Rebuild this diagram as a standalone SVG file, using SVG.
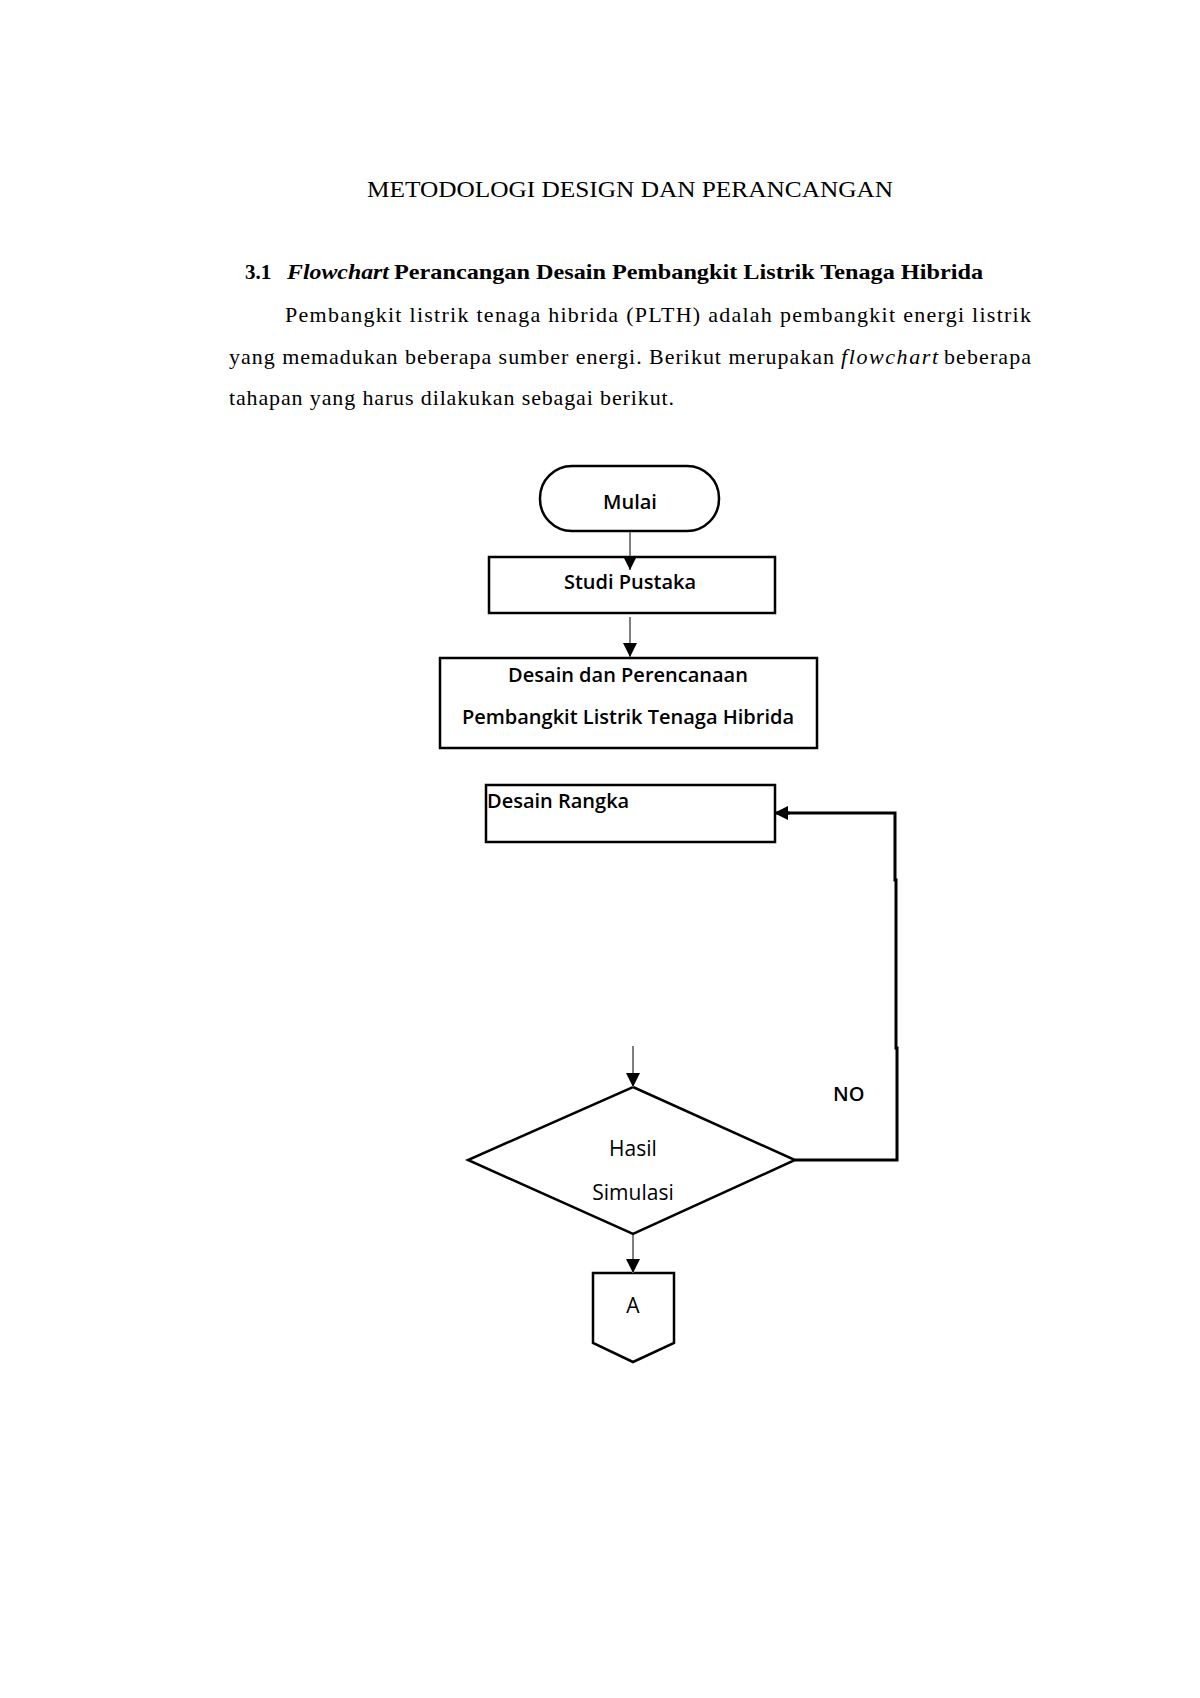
<svg xmlns="http://www.w3.org/2000/svg" width="1200" height="1698" viewBox="0 0 1200 1698">
<style>
.doc{font-family:"Liberation Serif","Times New Roman",serif;fill:#000}
.title{font-size:23px}
.head{font-size:21px;font-weight:bold}
.para{font-size:22px}
.node{fill:#fff;stroke:#000;stroke-width:2.5}
.lbl{font-family:"Open Sans","Noto Sans",sans-serif;font-size:20px;font-weight:600;fill:#000}
.lblr{font-family:"Open Sans","Noto Sans",sans-serif;font-size:21px;font-weight:400;fill:#000}
.conn{fill:none;stroke:#7f7f7f;stroke-width:2}
.loop{fill:none;stroke:#000;stroke-width:3}
</style>
<defs>
<marker id="ah" viewBox="0 0 10 10" refX="10" refY="5" markerUnits="userSpaceOnUse" markerWidth="14" markerHeight="14" orient="auto">
<path d="M0,0 L10,5 L0,10 z" fill="#000"/>
</marker>
</defs>
<rect width="1200" height="1698" fill="#fff"/>
<g id="text-block" class="doc">
<text class="title" x="367" y="197" textLength="526" lengthAdjust="spacingAndGlyphs">METODOLOGI DESIGN DAN PERANCANGAN</text>
<text class="head" x="245" y="279">3.1</text>
<text class="head" x="287" y="279" font-style="italic" textLength="102" lengthAdjust="spacingAndGlyphs">Flowchart</text>
<text class="head" x="394" y="279" textLength="589" lengthAdjust="spacingAndGlyphs">Perancangan Desain Pembangkit Listrik Tenaga Hibrida</text>
<text class="para" x="285" y="322" textLength="746" lengthAdjust="spacing">Pembangkit listrik tenaga hibrida (PLTH) adalah pembangkit energi listrik</text>
<text class="para" x="229" y="364" textLength="605" lengthAdjust="spacing">yang memadukan beberapa sumber energi. Berikut merupakan</text>
<text class="para" x="841" y="364" font-style="italic" textLength="97" lengthAdjust="spacing">flowchart</text>
<text class="para" x="944" y="364" textLength="87" lengthAdjust="spacing">beberapa</text>
<text class="para" x="229" y="405" textLength="445" lengthAdjust="spacing">tahapan yang harus dilakukan sebagai berikut.</text>
</g>
<g id="node-mulai">
<rect class="node" x="540" y="466" width="179" height="65" rx="32" ry="32"/>
<text class="lbl" x="630" y="509" text-anchor="middle">Mulai</text>
</g>
<g id="node-studi">
<rect class="node" x="489" y="557" width="286" height="56"/>
<text class="lbl" x="630" y="589" text-anchor="middle">Studi Pustaka</text>
</g>
<g id="node-desain">
<rect class="node" x="440" y="658" width="377" height="90"/>
<text class="lbl" x="628" y="682" text-anchor="middle">Desain dan Perencanaan</text>
<text class="lbl" x="628" y="724" text-anchor="middle">Pembangkit Listrik Tenaga Hibrida</text>
</g>
<g id="node-rangka">
<rect class="node" x="486" y="785" width="289" height="57"/>
<text class="lbl" x="487" y="808">Desain Rangka</text>
</g>
<g id="node-hasil">
<polygon class="node" points="633,1087 795,1160 633,1234 468,1160"/>
<text class="lblr" x="633" y="1156" text-anchor="middle">Hasil</text>
<text class="lblr" x="633" y="1200" text-anchor="middle">Simulasi</text>
</g>
<g id="node-a">
<polygon class="node" points="593,1273 674,1273 674,1343 633,1362 593,1343"/>
<text class="lblr" x="633" y="1313" text-anchor="middle" font-size="20">A</text>
</g>
<g id="connectors">
<line class="conn" x1="630" y1="532" x2="630" y2="570" marker-end="url(#ah)"/>
<line class="conn" x1="630" y1="617" x2="630" y2="657" marker-end="url(#ah)"/>
<line class="conn" x1="633" y1="1046" x2="633" y2="1087" marker-end="url(#ah)"/>
<line class="conn" x1="633" y1="1235" x2="633" y2="1273" marker-end="url(#ah)"/>
<path class="loop" d="M795,1160 H897 V1048 H896 V880 H895 V813 H788"/>
<line x1="790" y1="813" x2="774" y2="813" stroke="#000" stroke-width="3" marker-end="url(#ah)"/>
<text class="lbl" x="833" y="1101" font-size="18">NO</text>
</g>
</svg>
